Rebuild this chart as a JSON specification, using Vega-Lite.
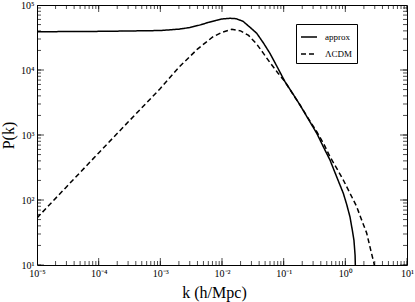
{
 "$schema": "https://vega.github.io/schema/vega-lite/v6.json",
 "width": 370, "height": 260,
 "autosize": {"type": "none"},
 "padding": {"left": 37, "top": 5, "right": 8, "bottom": 37},
 "background": "white",
 "config": {"view": {"stroke": "black", "strokeWidth": 1}, "font": "Liberation Serif"},
 "datasets": {
  "curves": [
  {"series":"approx","k":0.00001,"P":38800},
  {"series":"approx","k":0.00003,"P":39000},
  {"series":"approx","k":0.0001,"P":39300},
  {"series":"approx","k":0.0003,"P":39800},
  {"series":"approx","k":0.001,"P":40500},
  {"series":"approx","k":0.002,"P":42500},
  {"series":"approx","k":0.003,"P":45000},
  {"series":"approx","k":0.0045,"P":49500},
  {"series":"approx","k":0.006,"P":54000},
  {"series":"approx","k":0.008,"P":58000},
  {"series":"approx","k":0.01,"P":60900},
  {"series":"approx","k":0.0135,"P":62500},
  {"series":"approx","k":0.017,"P":61500},
  {"series":"approx","k":0.022,"P":56000},
  {"series":"approx","k":0.028,"P":46000},
  {"series":"approx","k":0.0366,"P":36700},
  {"series":"approx","k":0.047,"P":26000},
  {"series":"approx","k":0.06,"P":18000},
  {"series":"approx","k":0.08,"P":10800},
  {"series":"approx","k":0.105,"P":6610},
  {"series":"approx","k":0.14,"P":4350},
  {"series":"approx","k":0.184,"P":2894},
  {"series":"approx","k":0.25,"P":1770},
  {"series":"approx","k":0.344,"P":1062},
  {"series":"approx","k":0.45,"P":630},
  {"series":"approx","k":0.564,"P":412},
  {"series":"approx","k":0.75,"P":209},
  {"series":"approx","k":0.927,"P":127},
  {"series":"approx","k":1.05,"P":86},
  {"series":"approx","k":1.19,"P":55},
  {"series":"approx","k":1.3,"P":34},
  {"series":"approx","k":1.38,"P":24},
  {"series":"approx","k":1.44,"P":14},
  {"series":"approx","k":1.46,"P":8},
  {"series":"approx","k":1.47,"P":4},
  {"series":"ΛCDM","k":0.00001,"P":53},
  {"series":"ΛCDM","k":0.00003,"P":159},
  {"series":"ΛCDM","k":0.0001,"P":530},
  {"series":"ΛCDM","k":0.0003,"P":1580},
  {"series":"ΛCDM","k":0.001,"P":5200},
  {"series":"ΛCDM","k":0.002,"P":11000},
  {"series":"ΛCDM","k":0.004,"P":21000},
  {"series":"ΛCDM","k":0.007,"P":32000},
  {"series":"ΛCDM","k":0.01,"P":38000},
  {"series":"ΛCDM","k":0.0144,"P":42300},
  {"series":"ΛCDM","k":0.02,"P":40000},
  {"series":"ΛCDM","k":0.027,"P":34000},
  {"series":"ΛCDM","k":0.0366,"P":25000},
  {"series":"ΛCDM","k":0.047,"P":18000},
  {"series":"ΛCDM","k":0.06,"P":13000},
  {"series":"ΛCDM","k":0.08,"P":9080},
  {"series":"ΛCDM","k":0.105,"P":6610},
  {"series":"ΛCDM","k":0.14,"P":4300},
  {"series":"ΛCDM","k":0.184,"P":2894},
  {"series":"ΛCDM","k":0.25,"P":1800},
  {"series":"ΛCDM","k":0.344,"P":1125},
  {"series":"ΛCDM","k":0.45,"P":720},
  {"series":"ΛCDM","k":0.564,"P":463},
  {"series":"ΛCDM","k":0.75,"P":290},
  {"series":"ΛCDM","k":0.927,"P":203},
  {"series":"ΛCDM","k":1.2,"P":125},
  {"series":"ΛCDM","k":1.528,"P":79},
  {"series":"ΛCDM","k":1.8,"P":52},
  {"series":"ΛCDM","k":2.218,"P":31},
  {"series":"ΛCDM","k":2.6,"P":16.5},
  {"series":"ΛCDM","k":2.917,"P":10.6},
  {"series":"ΛCDM","k":3.0,"P":9}
  ],
  "xticks": [
   {"k":0.00001,"major":true},{"k":0.00002,"major":false},{"k":0.00003,"major":false},{"k":0.00004,"major":false},{"k":0.00005,"major":false},{"k":0.00006,"major":false},{"k":0.00007,"major":false},{"k":0.00008,"major":false},{"k":0.00009,"major":false},
   {"k":0.0001,"major":true},{"k":0.0002,"major":false},{"k":0.0003,"major":false},{"k":0.0004,"major":false},{"k":0.0005,"major":false},{"k":0.0006,"major":false},{"k":0.0007,"major":false},{"k":0.0008,"major":false},{"k":0.0009,"major":false},
   {"k":0.001,"major":true},{"k":0.002,"major":false},{"k":0.003,"major":false},{"k":0.004,"major":false},{"k":0.005,"major":false},{"k":0.006,"major":false},{"k":0.007,"major":false},{"k":0.008,"major":false},{"k":0.009,"major":false},
   {"k":0.01,"major":true},{"k":0.02,"major":false},{"k":0.03,"major":false},{"k":0.04,"major":false},{"k":0.05,"major":false},{"k":0.06,"major":false},{"k":0.07,"major":false},{"k":0.08,"major":false},{"k":0.09,"major":false},
   {"k":0.1,"major":true},{"k":0.2,"major":false},{"k":0.3,"major":false},{"k":0.4,"major":false},{"k":0.5,"major":false},{"k":0.6,"major":false},{"k":0.7,"major":false},{"k":0.8,"major":false},{"k":0.9,"major":false},
   {"k":1,"major":true},{"k":2,"major":false},{"k":3,"major":false},{"k":4,"major":false},{"k":5,"major":false},{"k":6,"major":false},{"k":7,"major":false},{"k":8,"major":false},{"k":9,"major":false},
   {"k":10,"major":true}
  ],
  "yticks": [
   {"P":10,"major":true},{"P":20,"major":false},{"P":30,"major":false},{"P":40,"major":false},{"P":50,"major":false},{"P":60,"major":false},{"P":70,"major":false},{"P":80,"major":false},{"P":90,"major":false},
   {"P":100,"major":true},{"P":200,"major":false},{"P":300,"major":false},{"P":400,"major":false},{"P":500,"major":false},{"P":600,"major":false},{"P":700,"major":false},{"P":800,"major":false},{"P":900,"major":false},
   {"P":1000,"major":true},{"P":2000,"major":false},{"P":3000,"major":false},{"P":4000,"major":false},{"P":5000,"major":false},{"P":6000,"major":false},{"P":7000,"major":false},{"P":8000,"major":false},{"P":9000,"major":false},
   {"P":10000,"major":true},{"P":20000,"major":false},{"P":30000,"major":false},{"P":40000,"major":false},{"P":50000,"major":false},{"P":60000,"major":false},{"P":70000,"major":false},{"P":80000,"major":false},{"P":90000,"major":false},
   {"P":100000,"major":true}
  ]
 },
 "layer": [
  {
   "data": {"name": "curves"},
   "mark": {"type": "line", "clip": true, "color": "black", "strokeWidth": 1.5},
   "encoding": {
    "x": {"field": "k", "type": "quantitative",
     "scale": {"type": "log", "domain": [0.00001, 10], "nice": false},
     "axis": {"orient": "bottom", "domain": false, "grid": false, "ticks": false,
      "values": [0.00001,0.0001,0.001,0.01,0.1,1,10],
      "labelExpr": "'10' + (round(log(datum.value)/LN10)==-5?'⁻⁵':round(log(datum.value)/LN10)==-4?'⁻⁴':round(log(datum.value)/LN10)==-3?'⁻³':round(log(datum.value)/LN10)==-2?'⁻²':round(log(datum.value)/LN10)==-1?'⁻¹':round(log(datum.value)/LN10)==0?'⁰':'¹')",
      "labelFont": "Liberation Serif", "labelFontSize": 10, "labelColor": "black",
      "labelFlush": false, "labelOverlap": false, "labelPadding": 3,
      "title": "k (h/Mpc)", "titleX": 177, "titleFont": "Liberation Serif", "titleFontSize": 16, "titleFontWeight": "normal", "titleColor": "black", "titlePadding": 6}
    },
    "y": {"field": "P", "type": "quantitative",
     "scale": {"type": "log", "domain": [10, 100000], "nice": false},
     "axis": {"orient": "left", "domain": false, "grid": false, "ticks": false,
      "values": [10,100,1000,10000,100000],
      "labelExpr": "'10' + (round(log(datum.value)/LN10)==1?'¹':round(log(datum.value)/LN10)==2?'²':round(log(datum.value)/LN10)==3?'³':round(log(datum.value)/LN10)==4?'⁴':'⁵')",
      "labelFont": "Liberation Serif", "labelFontSize": 10, "labelColor": "black",
      "labelFlush": false, "labelOverlap": false, "labelPadding": 3,
      "title": "P(k)", "titleFont": "Liberation Serif", "titleFontSize": 16, "titleFontWeight": "normal", "titleColor": "black", "titlePadding": 4}
    },
    "strokeDash": {"field": "series", "type": "nominal",
     "scale": {"domain": ["approx", "ΛCDM"], "range": [[1, 0], [5, 3]]},
     "legend": {"orient": "none", "legendX": 259, "legendY": 19, "title": null,
      "strokeColor": "black", "fillColor": "white", "padding": 4,
      "labelFont": "Liberation Serif", "labelFontSize": 9, "labelColor": "black",
      "symbolType": "stroke", "symbolSize": 256, "symbolStrokeWidth": 1.5, "symbolStrokeColor": "black",
      "rowPadding": 3, "labelOffset": 7}
    }
   }
  },
  {
   "data": {"name": "xticks"},
   "mark": {"type": "tick", "orient": "vertical", "clip": true, "color": "black", "thickness": 1, "size": 8},
   "encoding": {"x": {"field": "k", "type": "quantitative"}, "y": {"datum": 10}}
  },
  {
   "data": {"name": "xticks"},
   "mark": {"type": "tick", "orient": "vertical", "clip": true, "color": "black", "thickness": 1, "size": 8},
   "encoding": {"x": {"field": "k", "type": "quantitative"}, "y": {"datum": 100000}}
  },
  {
   "data": {"name": "xticks"},
   "transform": [{"filter": "datum.major"}],
   "mark": {"type": "tick", "orient": "vertical", "clip": true, "color": "black", "thickness": 1, "size": 14},
   "encoding": {"x": {"field": "k", "type": "quantitative"}, "y": {"datum": 10}}
  },
  {
   "data": {"name": "xticks"},
   "transform": [{"filter": "datum.major"}],
   "mark": {"type": "tick", "orient": "vertical", "clip": true, "color": "black", "thickness": 1, "size": 14},
   "encoding": {"x": {"field": "k", "type": "quantitative"}, "y": {"datum": 100000}}
  },
  {
   "data": {"name": "yticks"},
   "mark": {"type": "tick", "orient": "horizontal", "clip": true, "color": "black", "thickness": 1, "size": 8},
   "encoding": {"y": {"field": "P", "type": "quantitative"}, "x": {"datum": 0.00001}}
  },
  {
   "data": {"name": "yticks"},
   "mark": {"type": "tick", "orient": "horizontal", "clip": true, "color": "black", "thickness": 1, "size": 8},
   "encoding": {"y": {"field": "P", "type": "quantitative"}, "x": {"datum": 10}}
  },
  {
   "data": {"name": "yticks"},
   "transform": [{"filter": "datum.major"}],
   "mark": {"type": "tick", "orient": "horizontal", "clip": true, "color": "black", "thickness": 1, "size": 14},
   "encoding": {"y": {"field": "P", "type": "quantitative"}, "x": {"datum": 0.00001}}
  },
  {
   "data": {"name": "yticks"},
   "transform": [{"filter": "datum.major"}],
   "mark": {"type": "tick", "orient": "horizontal", "clip": true, "color": "black", "thickness": 1, "size": 14},
   "encoding": {"y": {"field": "P", "type": "quantitative"}, "x": {"datum": 10}}
  }
 ]
}
